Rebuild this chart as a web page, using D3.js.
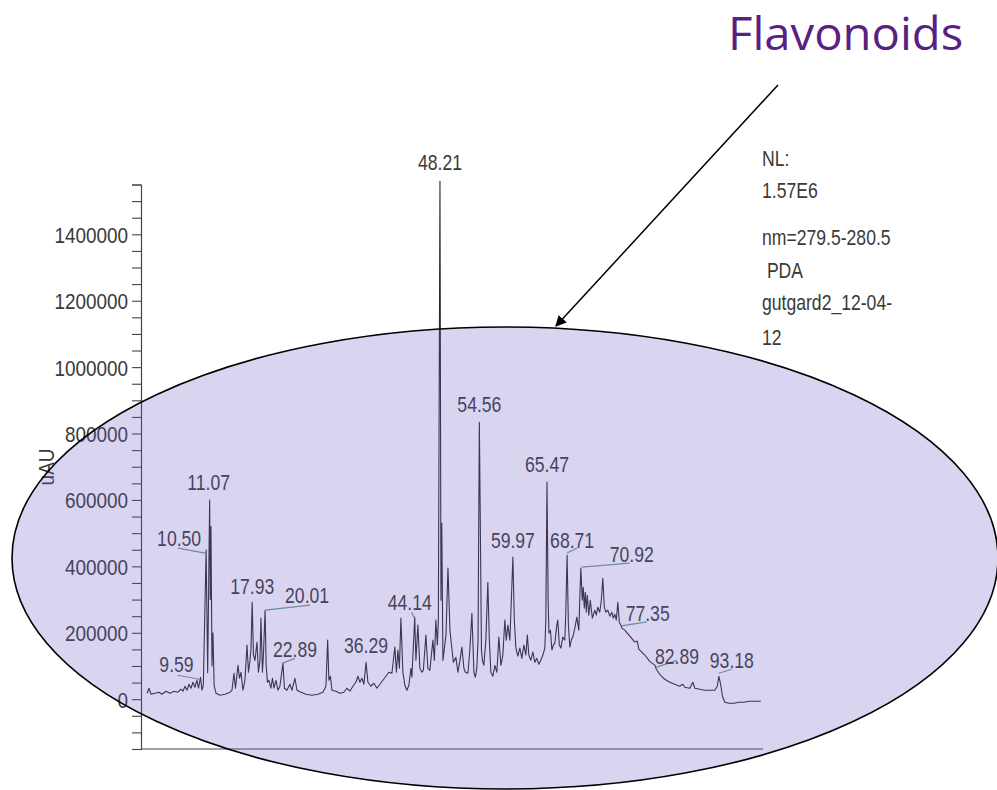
<!DOCTYPE html>
<html>
<head>
<meta charset="utf-8">
<script src="https://cdn.jsdelivr.net/npm/d3@7/dist/d3.min.js"></script>
<style>
  html, body { margin: 0; padding: 0; background: #ffffff; }
  svg { display: block; }
</style>
</head>
<body>
<svg id="chart" width="997" height="790"></svg>
<script>
// PDA chromatogram, 279.5-280.5 nm, gutgard2 extract
const retentionTimes = [
  0.97, 1.29, 1.61, 2.26, 2.90, 3.38, 4.03, 4.67, 5.32, 5.96,
  6.45, 6.77, 7.09, 7.41, 7.74, 8.06, 8.38, 8.70, 9.03, 9.27,
  9.59, 9.83, 10.05, 10.50, 10.75, 11.07, 11.18, 11.28, 11.45, 11.60,
  11.80, 12.09, 12.73, 13.54, 14.35, 14.67, 14.99, 15.23, 15.64, 15.88,
  16.12, 16.44, 16.76, 17.09, 17.33, 17.57, 17.73, 17.93, 18.13, 18.38,
  18.70, 18.94, 19.18, 19.34, 19.58, 19.74, 20.01, 20.18, 20.39, 20.63,
  20.95, 21.20, 21.44, 21.76, 22.08, 22.40, 22.89, 23.13, 23.53, 24.02,
  24.34, 24.82, 25.15, 25.79, 26.60, 27.56, 28.53, 29.34, 29.82, 30.10,
  30.30, 30.55, 30.79, 31.43, 32.08, 32.72, 33.20, 33.69, 34.17, 34.65,
  34.98, 35.30, 35.62, 35.94, 36.29, 36.59, 37.07, 37.56, 38.04, 38.52,
  39.01, 39.49, 39.97, 40.46, 40.94, 41.18, 41.43, 41.67, 41.91, 42.23,
  42.55, 42.88, 43.20, 43.52, 43.68, 44.14, 44.33, 44.65, 44.97, 45.29,
  45.53, 45.94, 46.26, 46.58, 47.07, 47.31, 47.55, 47.79, 47.95, 48.21,
  48.37, 48.50, 48.69, 49.18, 49.50, 49.82, 50.06, 50.38, 50.78, 51.10,
  51.43, 51.74, 52.07, 52.31, 52.72, 53.03, 53.36, 53.68, 53.92, 54.16,
  54.35, 54.56, 54.74, 54.90, 55.06, 55.29, 55.61, 55.93, 56.17, 56.42,
  56.74, 57.06, 57.38, 57.71, 58.03, 58.35, 58.67, 58.91, 59.16, 59.48,
  59.72, 59.97, 60.20, 60.45, 60.77, 61.09, 61.41, 61.74, 62.06, 62.30,
  62.54, 62.86, 63.19, 63.51, 63.83, 64.15, 64.47, 64.80, 65.12, 65.28,
  65.47, 65.65, 65.78, 66.02, 66.26, 66.50, 66.73, 67.05, 67.21, 67.46,
  67.70, 68.02, 68.34, 68.50, 68.71, 68.92, 69.15, 69.39, 69.63, 69.96,
  70.28, 70.60, 70.92, 71.16, 71.32, 71.48, 71.65, 71.81, 71.97, 72.21,
  72.45, 72.78, 73.18, 73.42, 73.66, 73.98, 74.23, 74.47, 74.71, 74.95,
  75.27, 75.60, 75.92, 76.16, 76.40, 76.64, 76.89, 77.13, 77.35, 77.55,
  78.01, 78.82, 79.63, 80.03, 80.27, 81.24, 82.04, 82.89, 83.10, 83.66,
  84.46, 85.27, 86.07, 86.88, 87.37, 87.69, 88.49, 88.98, 89.30, 90.11,
  90.91, 91.72, 92.52, 92.93, 93.18, 93.44, 93.76, 94.16, 94.81, 95.62,
  96.42, 97.23, 98.03, 98.84, 99.95
];

const intensities = [
  18000, 33000, 15000, 18000, 21000, 15000, 24000, 18000, 24000, 21000,
  30000, 24000, 39000, 27000, 45000, 33000, 51000, 36000, 57000, 33000,
  66000, 27000, 42000, 449000, 80000, 600000, 300000, 520000, 100000, 200000,
  40000, 18000, 12000, 15000, 21000, 27000, 78000, 33000, 102000, 63000,
  81000, 27000, 57000, 163000, 81000, 117000, 148000, 292000, 133000, 117000,
  172000, 81000, 117000, 244000, 81000, 133000, 268000, 102000, 51000, 57000,
  33000, 63000, 33000, 57000, 27000, 39000, 108000, 33000, 27000, 45000,
  27000, 63000, 27000, 21000, 15000, 12000, 15000, 21000, 39000, 178000,
  57000, 69000, 27000, 24000, 18000, 21000, 33000, 24000, 39000, 51000,
  69000, 51000, 63000, 45000, 111000, 51000, 39000, 48000, 33000, 45000,
  57000, 69000, 81000, 78000, 157000, 81000, 148000, 93000, 244000, 81000,
  42000, 27000, 42000, 93000, 66000, 247000, 117000, 223000, 93000, 81000,
  87000, 193000, 93000, 87000, 178000, 117000, 238000, 163000, 238000, 1560000,
  298000, 530000, 117000, 193000, 395000, 208000, 163000, 111000, 126000, 81000,
  117000, 157000, 93000, 81000, 78000, 148000, 259000, 81000, 66000, 96000,
  178000, 834000, 479000, 148000, 117000, 102000, 178000, 352000, 178000, 81000,
  69000, 102000, 81000, 187000, 102000, 133000, 238000, 178000, 223000, 178000,
  298000, 428000, 238000, 154000, 130000, 154000, 123000, 163000, 133000, 193000,
  133000, 117000, 142000, 111000, 123000, 105000, 117000, 133000, 154000, 238000,
  654000, 298000, 199000, 208000, 148000, 163000, 169000, 223000, 238000, 163000,
  154000, 187000, 178000, 262000, 434000, 223000, 157000, 178000, 187000, 214000,
  247000, 208000, 395000, 298000, 337000, 274000, 322000, 262000, 313000, 253000,
  298000, 244000, 268000, 253000, 277000, 262000, 298000, 364000, 277000, 262000,
  268000, 250000, 262000, 244000, 256000, 238000, 292000, 232000, 224000, 214000,
  208000, 190000, 172000, 175000, 151000, 133000, 114000, 102000, 90000, 75000,
  60000, 51000, 45000, 39000, 45000, 36000, 33000, 51000, 33000, 30000,
  27000, 27000, 27000, 39000, 69000, 48000, 9000, -9000, -12000, -12000,
  -9000, -9000, -6000, -6000, -6000
];

// Annotated retention times (minutes)
const peakLabels = [
  "9.59", "10.50", "11.07", "17.93", "20.01", "22.89", "36.29", "44.14", "48.21",
  "54.56", "59.97", "65.47", "68.71", "70.92", "77.35", "82.89", "93.18"
];

const yTickValues = [0, 200000, 400000, 600000, 800000, 1000000, 1200000, 1400000];
const yTickLabels = ["0", "200000", "400000", "600000", "800000", "1000000", "1200000", "1400000"];
const yMinorTicks = [
  -150000, -100000, -50000, 50000, 100000, 150000, 250000, 300000, 350000,
  450000, 500000, 550000, 650000, 700000, 750000, 850000, 900000, 950000,
  1050000, 1100000, 1150000, 1250000, 1300000, 1350000, 1450000, 1500000, 1550000
];

const yAxisTitle = "uAU";
const infoLines = ["NL:", "1.57E6", "nm=279.5-280.5", " PDA", "gutgard2_12-04-", "12"];
const calloutText = "Flavonoids";

// ---- layout ----
const svg = d3.select("#chart");
const TEXT_FONT = "'Liberation Sans', Arial, sans-serif";
const TEXT_COLOR = "#3a3a3a";
const SX = 0.8;   // horizontal squeeze of the instrument-report lettering

const x = d3.scaleLinear().domain([0, 100.3]).range([141, 763]);
const y = d3.scaleLinear().domain([-150000, 1550000]).range([749, 184.5]);

const series = retentionTimes.map((t, i) => ({ t, v: intensities[i] }));
const valueAt = t => series.find(d => Math.abs(d.t - t) < 1e-6).v;

// label offsets (px) relative to each annotated apex, with optional leader line
const labelLayout = {
  "9.59":  { dx: -24, dy: -5,  lead: [[-23, -2], [-1, 2]] },
  "10.50": { dx: -27, dy: -4,  lead: [[-28, -2], [-1, 3]] },
  "11.07": { dx: -1,  dy: -10 },
  "17.93": { dx: 0,   dy: -8 },
  "20.01": { dx: 42,  dy: -7,  lead: [[0, 0], [45, -5]] },
  "22.89": { dx: 12,  dy: -6,  lead: [[-1, 0], [12, -5]] },
  "36.29": { dx: 0,   dy: -9 },
  "44.14": { dx: -5,  dy: -7,  lead: [[-3, -5], [-1, 0]] },
  "48.21": { dx: 0,   dy: -11 },
  "54.56": { dx: 0,   dy: -10 },
  "59.97": { dx: 0,   dy: -9 },
  "65.47": { dx: 0,   dy: -10 },
  "68.71": { dx: 5,   dy: -7,  lead: [[0, -2], [10, -7]] },
  "70.92": { dx: 51,  dy: -6,  lead: [[1, -1], [49, -5]] },
  "77.35": { dx: 27,  dy: -4,  lead: [[1, 1], [26, -3]] },
  "82.89": { dx: 22,  dy: -1,  lead: [[1, 2], [22, -5]] },
  "93.18": { dx: 13,  dy: -8,  lead: [[0, -3], [13, -7]] }
};

// ---- axes ----
const axisG = svg.append("g").attr("transform", "translate(141,0)");
axisG.call(d3.axisLeft(y).tickValues(yMinorTicks).tickSize(9).tickFormat(""))
  .call(g => g.select(".domain").attr("stroke", "#444").attr("stroke-width", 1.2));
const majorG = svg.append("g").attr("transform", "translate(141,0)");
majorG.call(d3.axisLeft(y).tickValues(yTickValues).tickSize(9).tickFormat((d, i) => yTickLabels[i]))
  .call(g => g.select(".domain").remove());
svg.selectAll(".tick line").attr("stroke", "#444").attr("stroke-width", 1.1);
majorG.selectAll(".tick text")
  .attr("x", null).attr("dy", null)
  .attr("transform", "translate(-13,0) scale(0.86,1)")
  .attr("dominant-baseline", "central")
  .attr("font-family", TEXT_FONT).attr("font-size", 22).attr("fill", TEXT_COLOR);

// bottom axis rule
svg.append("line")
  .attr("x1", x(0)).attr("x2", x(100.3))
  .attr("y1", y(-150000)).attr("y2", y(-150000))
  .attr("stroke", "#444").attr("stroke-width", 1.2);

// y title
svg.append("text")
  .attr("transform", "translate(54,467) rotate(-90) scale(0.86,1)")
  .attr("text-anchor", "middle")
  .attr("font-family", TEXT_FONT).attr("font-size", 22).attr("fill", TEXT_COLOR)
  .text(yAxisTitle);

// ---- trace ----
const line = d3.line().x(d => x(d.t)).y(d => y(d.v));
svg.append("path")
  .datum(series)
  .attr("d", line)
  .attr("fill", "none")
  .attr("stroke", "#2a2a2a")
  .attr("stroke-width", 1.1)
  .attr("stroke-linejoin", "round");

// ---- peak annotations ----
peakLabels.forEach(lbl => {
  const t = +lbl;
  const px = x(t), py = y(valueAt(t));
  const L = labelLayout[lbl];
  if (L.lead) {
    svg.append("line")
      .attr("x1", px + L.lead[0][0]).attr("y1", py + L.lead[0][1])
      .attr("x2", px + L.lead[1][0]).attr("y2", py + L.lead[1][1])
      .attr("stroke", "#6f9c8e").attr("stroke-width", 1.2);
  }
  svg.append("text")
    .attr("transform", `translate(${px + L.dx},${py + L.dy}) scale(${SX},1)`)
    .attr("text-anchor", "middle")
    .attr("font-family", TEXT_FONT).attr("font-size", 22).attr("fill", TEXT_COLOR)
    .text(lbl);
});

// ---- report header ----
const infoBaselines = [166, 198, 245, 278, 310, 345];
infoLines.forEach((s, i) => {
  svg.append("text")
    .attr("transform", `translate(762,${infoBaselines[i]}) scale(${SX},1)`)
    .attr("font-family", TEXT_FONT).attr("font-size", 22).attr("fill", TEXT_COLOR)
    .attr("xml:space", "preserve")
    .style("white-space", "pre")
    .text(s);
});

// ---- highlight ellipse ----
svg.append("ellipse")
  .attr("cx", 505).attr("cy", 558).attr("rx", 493).attr("ry", 231)
  .attr("fill", "#6b5bc4").attr("fill-opacity", 0.26)
  .attr("stroke", "#000").attr("stroke-width", 1.6);

// ---- callout ----
const defs = svg.append("defs");
defs.append("marker")
  .attr("id", "arrowhead")
  .attr("viewBox", "0 0 10 10")
  .attr("refX", 9).attr("refY", 5)
  .attr("markerWidth", 11).attr("markerHeight", 11)
  .attr("markerUnits", "userSpaceOnUse")
  .attr("orient", "auto")
  .append("path").attr("d", "M0,0 L10,5 L0,10 Z").attr("fill", "#000");

svg.append("line")
  .attr("x1", 778).attr("y1", 85).attr("x2", 556).attr("y2", 326)
  .attr("stroke", "#000").attr("stroke-width", 1.5)
  .attr("marker-end", "url(#arrowhead)");

svg.append("text")
  .attr("transform", "translate(728,50) scale(1.05,1)")
  .attr("font-family", "'Open Sans', 'Noto Sans', sans-serif")
  .attr("font-size", 45)
  .attr("fill", "#5a1f82")
  .text(calloutText);
</script>
</body>
</html>
